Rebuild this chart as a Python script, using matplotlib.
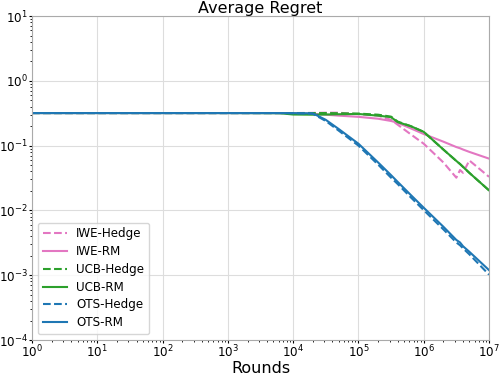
import matplotlib
matplotlib.use("Agg")
import matplotlib.pyplot as plt

# rounds (shared x for every series)
rounds = [1, 1e1, 1e2, 1e3, 6.3e3, 1e4, 2e4, 3.16e4, 5e4, 1e5, 2e5, 3.16e5, 4e5,
          6.3e5, 1e6, 2e6, 3.16e6, 3.6e6, 4e6, 5e6, 1e7]

iwe_hedge = [0.318, 0.318, 0.318, 0.318, 0.318, 0.318, 0.32, 0.322, 0.322, 0.305, 0.29,
             0.25, 0.21, 0.15, 0.107, 0.055, 0.032, 0.042, 0.038, 0.059, 0.033]
iwe_rm = [0.318, 0.318, 0.318, 0.318, 0.318, 0.316, 0.31, 0.30, 0.29, 0.278, 0.26,
          0.24, 0.225, 0.185, 0.151, 0.115, 0.095, 0.091, 0.087, 0.080, 0.063]
ucb_hedge = [0.318, 0.318, 0.318, 0.318, 0.318, 0.318, 0.318, 0.318, 0.316, 0.312, 0.30,
             0.28, 0.235, 0.20, 0.163, 0.087, 0.058, 0.052, 0.047, 0.038, 0.0204]
ucb_rm = [0.318, 0.318, 0.318, 0.318, 0.316, 0.302, 0.30, 0.302, 0.305, 0.308, 0.29,
          0.275, 0.23, 0.20, 0.163, 0.087, 0.058, 0.052, 0.047, 0.038, 0.0204]
ots_hedge = [0.318, 0.318, 0.318, 0.318, 0.318, 0.316, 0.31, 0.24, 0.17, 0.10, 0.051,
             0.032, 0.0255, 0.016, 0.0101, 0.0051, 0.0032, 0.0029, 0.0026, 0.0021, 0.00102]
ots_rm = [0.318, 0.318, 0.318, 0.318, 0.318, 0.317, 0.315, 0.25, 0.18, 0.107, 0.055,
          0.035, 0.0275, 0.0174, 0.011, 0.0056, 0.0035, 0.0032, 0.0028, 0.0023, 0.0012]

series = [
    ("IWE-Hedge", iwe_hedge, "tab:pink", "--"),
    ("IWE-RM", iwe_rm, "tab:pink", "-"),
    ("UCB-Hedge", ucb_hedge, "tab:green", "--"),
    ("UCB-RM", ucb_rm, "tab:green", "-"),
    ("OTS-Hedge", ots_hedge, "tab:blue", "--"),
    ("OTS-RM", ots_rm, "tab:blue", "-"),
]

fig = plt.figure(figsize=(5, 3.75), dpi=100)
ax = fig.add_axes([0.064, 0.0933, 0.914, 0.864])

for label, vals, color, ls in series:
    ax.plot(rounds, vals, color=color, linestyle=ls, linewidth=1.5, label=label)

ax.set_xscale("log")
ax.set_yscale("log")
ax.set_xlim(1, 1e7)
ax.set_ylim(1e-4, 1e1)
ax.grid(True, which="major", color="#dddddd", linewidth=0.8)
ax.tick_params(which="major", labelsize=8.6, length=2, pad=1)
ax.tick_params(which="minor", length=1.2)
for s in ax.spines.values():
    s.set_color("#aaaaaa")
ax.set_title("Average Regret", fontsize=11.5, pad=2)
ax.set_xlabel("Rounds", fontsize=11.5, labelpad=0)
ax.legend(loc="lower left", fontsize=8.6, labelspacing=0.4)

plt.savefig("out.png", dpi=100)
plt.close()
